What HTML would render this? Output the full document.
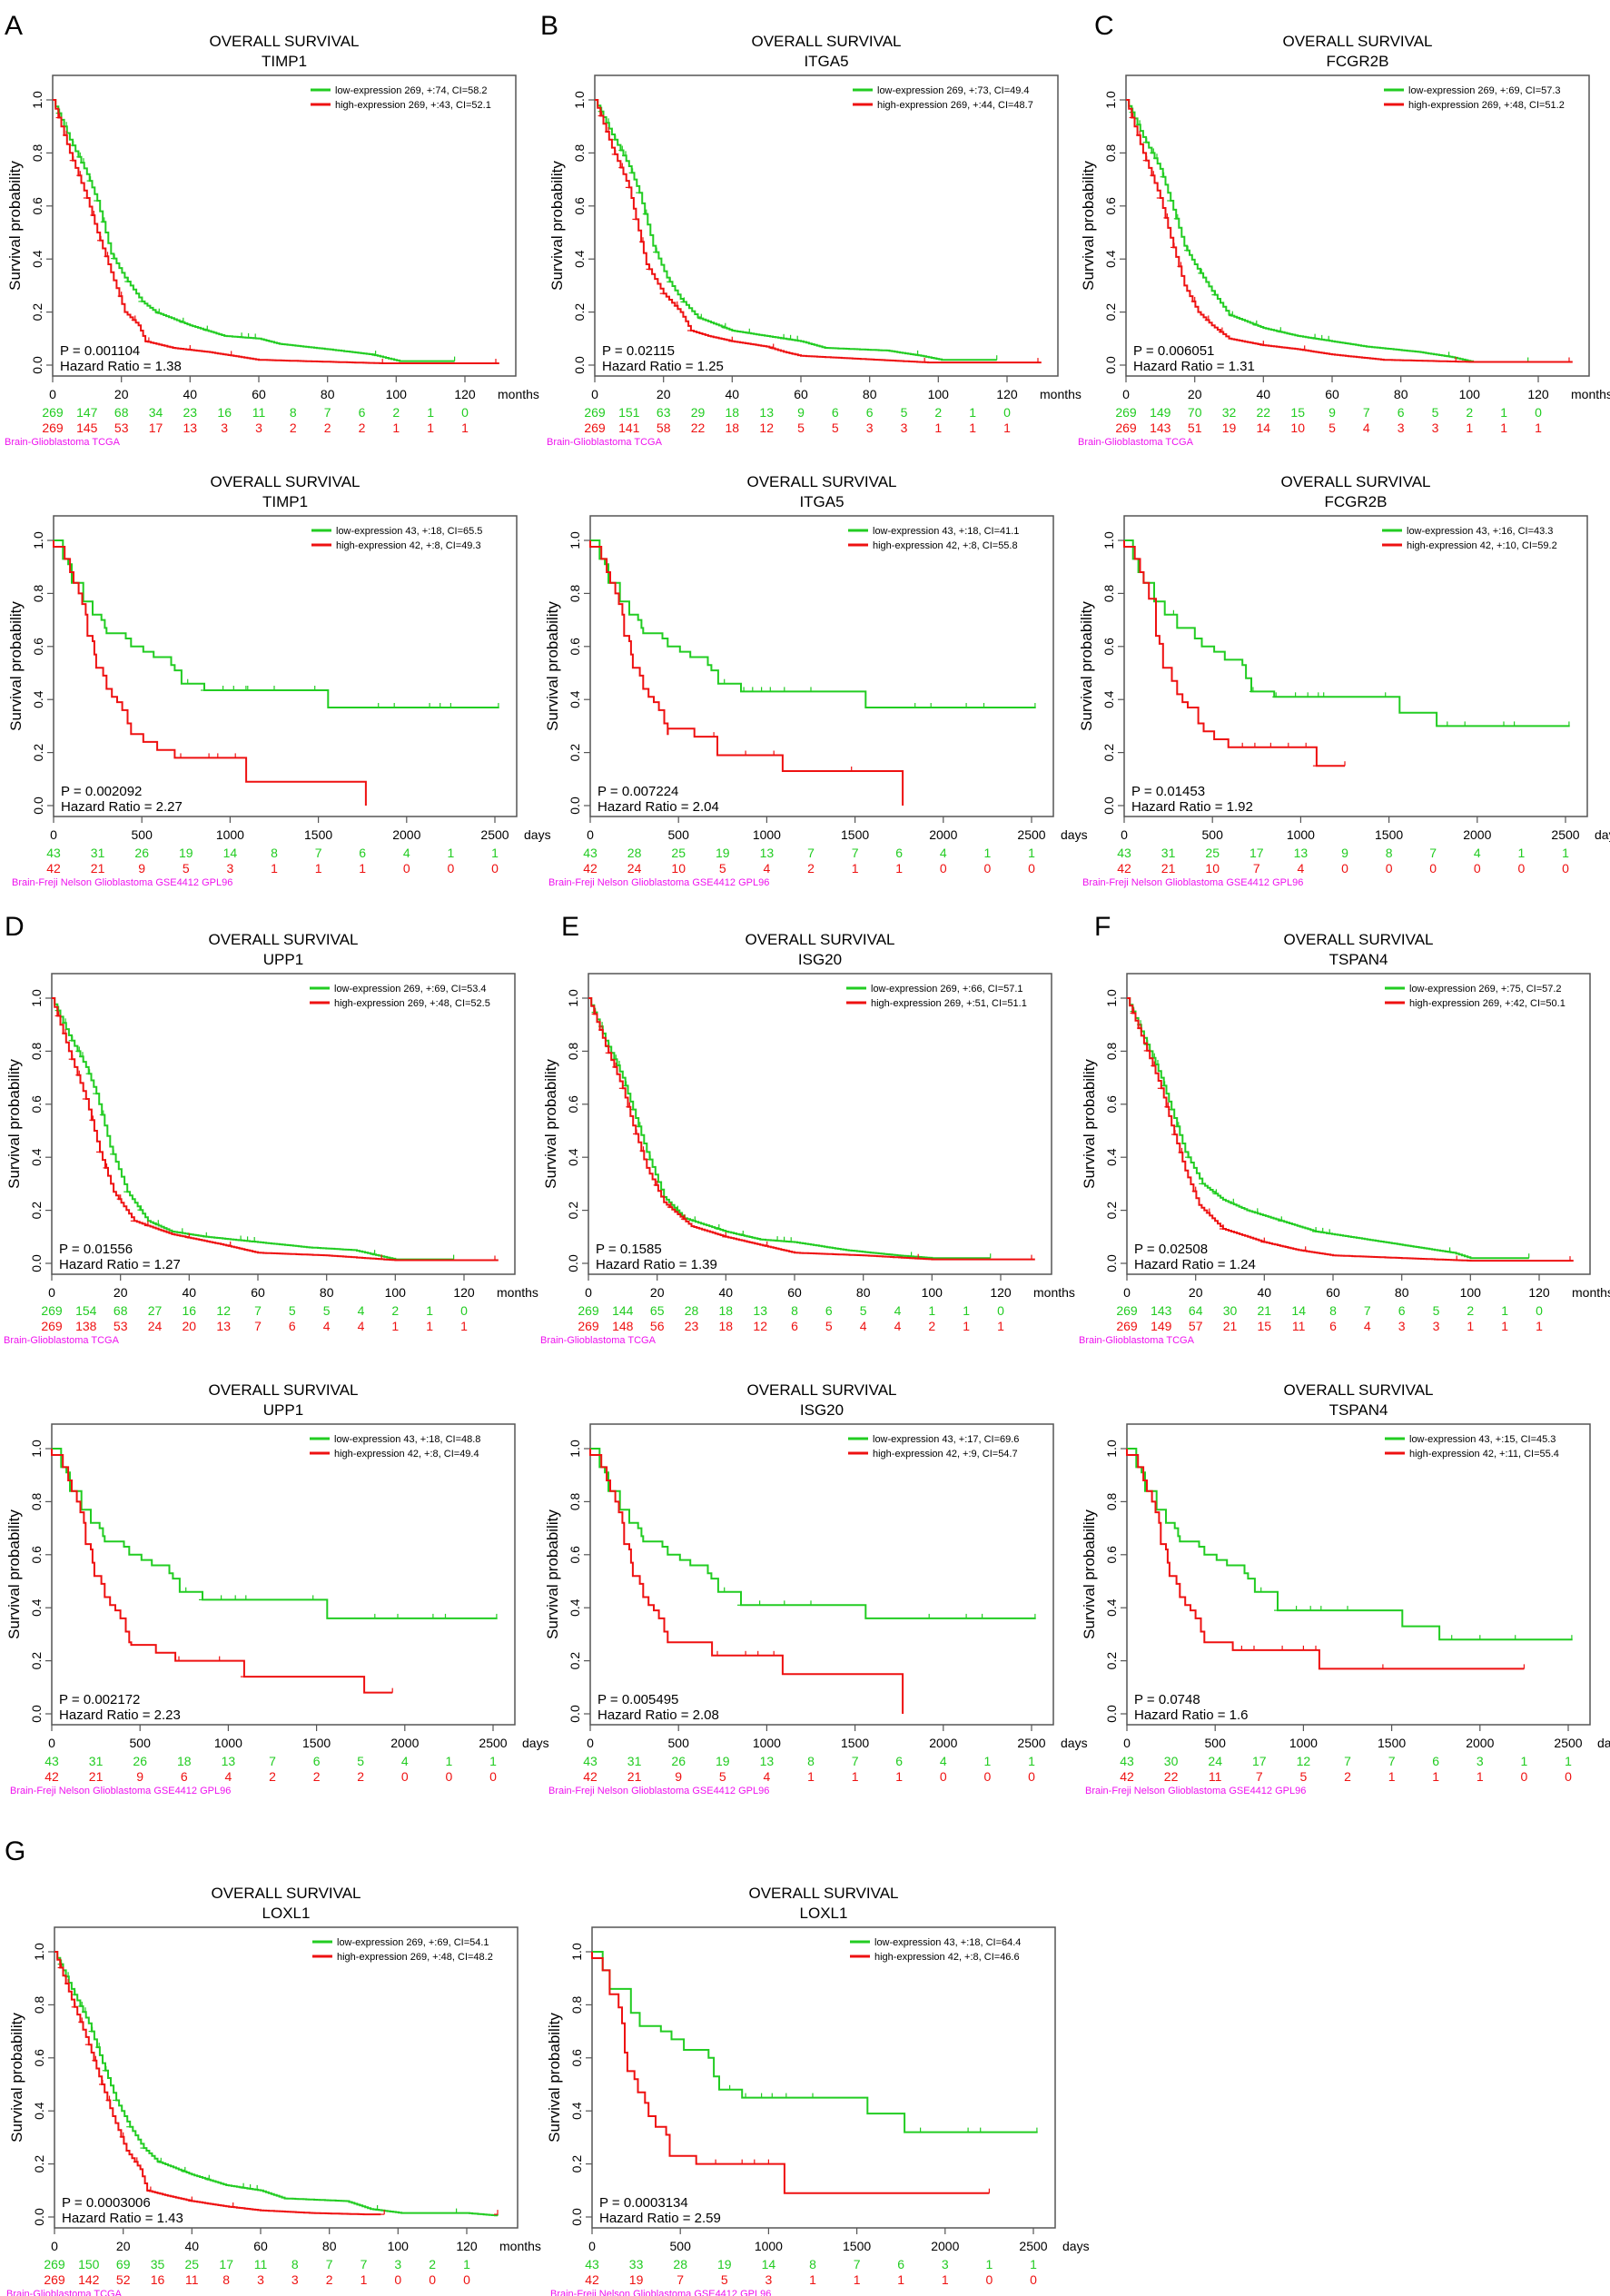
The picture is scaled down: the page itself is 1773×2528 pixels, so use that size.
<!DOCTYPE html>
<html><head><meta charset="utf-8">
<style>
html,body{margin:0;padding:0;background:#fff;}
svg{display:block;font-family:"Liberation Sans",Arial,sans-serif;}
</style></head>
<body>
<svg id="s" width="1773" height="2528" viewBox="0 0 1773 2528" xmlns="http://www.w3.org/2000/svg">
<rect width="1773" height="2528" fill="#fff"/>
</svg>
<script>
var S=document.getElementById('s'),NS='http://www.w3.org/2000/svg';
var out='';
function T(x,y,t,o){o=o||{};out+='<text x="'+x+'" y="'+y+'" font-size="'+(o.fs||14)+'" fill="'+(o.c||'#000')+'" text-anchor="'+(o.a||'middle')+'"'+(o.r?' transform="rotate(-90 '+x+' '+y+')"':'')+'>'+t+'</text>';}
function L(x1,y1,x2,y2,c,w){out+='<line x1="'+x1+'" y1="'+y1+'" x2="'+x2+'" y2="'+y2+'" stroke="'+c+'" stroke-width="'+(w||1)+'"/>';}
var G='#22cc22',R='#ee1111',M='#ee11ee';
function stepsFromKeys(keys,dt){
  var pts=[];var t=keys[0][0],s=keys[0][1];pts.push([t,s]);
  for(var i=1;i<keys.length;i++){var a=keys[i-1],b=keys[i];var n=Math.max(1,Math.round((b[0]-a[0])/dt));
    for(var k=1;k<=n;k++){var tt=a[0]+(b[0]-a[0])*k/n,ss=a[1]+(b[1]-a[1])*k/n;pts.push([tt,ss]);}}
  return pts;}
function drawCurve(p,pts,col,cens){
  var d='';
  for(var i=0;i<pts.length;i++){var x=p.X(pts[i][0]),y=p.Y(pts[i][1]);
    if(i==0)d+='M'+x+' '+y;else{d+=' H'+x+' V'+y;}}
  out+='<path d="'+d+'" fill="none" stroke="'+col+'" stroke-width="2"/>';
  (cens||[]).forEach(function(c){var v=valAt(pts,c);var x=p.X(c),y=p.Y(v);L(x,y-5,x,y+5,col,1.2);L(x-4,y,x+4,y,col,1.2);});
}
function valAt(pts,t){var v=pts[0][1];for(var i=0;i<pts.length;i++){if(pts[i][0]<=t)v=pts[i][1];}return v;}
function panel(o){
  var x0=o.x,y0=o.y,w=510,h=331,W=o.tcga?454/120:486/2500;
  var p={X:function(t){return (x0+t*W).toFixed(1);},Y:function(s){return (y0+27+(1-s)*292).toFixed(1);}};
  var cx=x0+w/2;
  T(cx,y0-32,'OVERALL SURVIVAL',{fs:17});T(cx,y0-10,o.gene,{fs:17});
  out+='<rect x="'+x0+'" y="'+y0+'" width="'+w+'" height="'+h+'" fill="none" stroke="#555" stroke-width="1.5"/>';
  for(var i=0;i<=5;i++){var yy=y0+27+(1-i/5)*292;L(x0-7,yy,x0,yy,'#555',1.2);T(x0-12,yy,(i/5).toFixed(1),{fs:14,r:1});}
  T(x0-36,y0+h/2,'Survival probability',{fs:17,r:1});
  var ticks=o.tcga?[0,20,40,60,80,100,120]:[0,500,1000,1500,2000,2500];
  ticks.forEach(function(t){var xx=+p.X(t);L(xx,y0+h,xx,y0+h+7,'#555',1.2);T(xx,y0+h+25,t,{fs:14});});
  T(o.tcga?x0+w-20:x0+w+8,y0+h+25,o.tcga?'months':'days',{fs:14,a:'start'});
  var step=o.tcga?10:250;
  o.gc.forEach(function(n,i){T(+p.X(i*step),y0+h+45,n,{fs:14,c:G});});
  o.rc.forEach(function(n,i){T(+p.X(i*step),y0+h+62,n,{fs:14,c:R});});
  T(o.tcga?x0-53:x0-46,y0+h+76,o.tcga?'Brain-Glioblastoma TCGA':'Brain-Freji Nelson Glioblastoma GSE4412 GPL96',{fs:11,c:M,a:'start'});
  L(x0+w-226,y0+16,x0+w-204,y0+16,G,3);L(x0+w-226,y0+32,x0+w-204,y0+32,R,3);
  T(x0+w-199,y0+20,o.lg,{fs:11,a:'start'});T(x0+w-199,y0+36,o.lr,{fs:11,a:'start'});
  T(x0+8,y0+308,'P = '+o.p,{fs:15,a:'start'});T(x0+8,y0+325,'Hazard Ratio = '+o.hr,{fs:15,a:'start'});
  var gp,rp;
  if(o.tcga){gp=stepsFromKeys(o.g,0.8);rp=stepsFromKeys(o.r,0.8);}
  else{gp=o.g;rp=o.r;}
  var gcens=o.tcga?[2,4,6,8,9,11,13,15,18,22,26,31,38,45,55,57,59,94,117]:o.gcen;
  var rcens=o.tcga?[2,4,6,8,10,12,14,16,20,24,28,40,52,96,129]:o.rcen;
  drawCurve(p,gp,G,gcens);drawCurve(p,rp,R,rcens);
}
function gse(steps,end){var a=[[0,1]];steps.forEach(function(s){a.push(s);});a.push([end,a[a.length-1][1]]);return a;}
var gEarly=[[53,.93],[83,.91],[103,.84],[168,.77],[221,.72],[271,.70],[290,.67],[300,.65],[409,.63],[439,.60],[508,.58],[567,.56],[666,.53],[686,.51],[725,.46]];
var rEarly=[[0,.976],[63,.93],[93,.88],[113,.84],[142,.80],[162,.76],[182,.72],[192,.64],[221,.62],[231,.57],[241,.52],[281,.49],[300,.44],[330,.41],[360,.39],[389,.36],[419,.31],[439,.27]];
function gsec(plateaus,end){return gse(gEarly.concat(plateaus),end);}
function rsec(tail,end){return gse(rEarly.concat(tail),end);}
var TG1=[[0,1],[5,.85],[10,.72],[13,.62],[17,.42],[21,.33],[26,.24],[30,.2],[40,.15],[50,.11],[60,.1],[66,.08],[80,.06],[93,.04],[101,.015],[117,.015]];
var TR1=[[0,1],[5,.8],[10,.63],[13,.5],[17,.35],[21,.2],[25,.15],[27,.09],[35,.065],[45,.05],[55,.03],[60,.02],[73,.015],[96,.007],[130,.007]];
var P=[
{x:58,y:83,tcga:1,gene:'TIMP1',lg:'low-expression 269, +:74, CI=58.2',lr:'high-expression 269, +:43, CI=52.1',p:'0.001104',hr:'1.38',
 gc:[269,147,68,34,23,16,11,8,7,6,2,1,0],rc:[269,145,53,17,13,3,3,2,2,2,1,1,1],g:TG1,r:TR1},
{x:655,y:83,tcga:1,gene:'ITGA5',lg:'low-expression 269, +:73, CI=49.4',lr:'high-expression 269, +:44, CI=48.7',p:'0.02115',hr:'1.25',
 gc:[269,151,63,29,18,13,9,6,6,5,2,1,0],rc:[269,141,58,22,18,12,5,5,3,3,1,1,1],
 g:[[0,1],[5,.87],[10,.75],[13,.65],[17,.45],[21,.33],[25,.25],[30,.18],[40,.13],[55,.1],[60,.09],[67,.065],[85,.055],[95,.035],[101,.02],[117,.02]],
 r:[[0,1],[5,.82],[10,.67],[12,.55],[15,.38],[20,.27],[25,.2],[28,.13],[33,.11],[40,.09],[50,.07],[55,.05],[60,.035],[75,.025],[97,.01],[130,.01]]},
{x:1240,y:83,tcga:1,gene:'FCGR2B',lg:'low-expression 269, +:69, CI=57.3',lr:'high-expression 269, +:48, CI=51.2',p:'0.006051',hr:'1.31',
 gc:[269,149,70,32,22,15,9,7,6,5,2,1,0],rc:[269,143,51,19,14,10,5,4,3,3,1,1,1],
 g:[[0,1],[5,.86],[10,.74],[13,.62],[17,.45],[20,.38],[25,.28],[30,.19],[40,.14],[50,.11],[60,.09],[70,.07],[85,.05],[95,.03],[101,.012],[117,.012]],
 r:[[0,1],[5,.8],[10,.63],[13,.48],[17,.3],[21,.2],[25,.15],[30,.1],[40,.075],[50,.06],[60,.04],[75,.02],[100,.012],[130,.012]]},
{x:59,y:568,gene:'TIMP1',lg:'low-expression 43, +:18, CI=65.5',lr:'high-expression 42, +:8, CI=49.3',p:'0.002092',hr:'2.27',
 gc:[43,31,26,19,14,8,7,6,4,1,1],rc:[42,21,9,5,3,1,1,1,0,0,0],
 g:gsec([[854,.435],[1555,.37]],2524),r:rsec([[508,.24],[587,.21],[686,.18],[1091,.09],[1769,0]],1769),
 gcen:[760,854,960,1020,1090,1100,1250,1480,1840,1930,2130,2190,2250,2520],rcen:[720,880,930,1030]},
{x:650,y:568,gene:'ITGA5',lg:'low-expression 43, +:18, CI=41.1',lr:'high-expression 42, +:8, CI=55.8',p:'0.007224',hr:'2.04',
 gc:[43,28,25,19,13,7,7,6,4,1,1],rc:[42,24,10,5,4,2,1,1,0,0,0],
 g:gsec([[854,.43],[1560,.37]],2524),r:rsec([[440,.29],[590,.26],[720,.19],[1090,.13],[1770,0]],1770),
 gcen:[760,870,920,970,1020,1100,1250,1840,1930,2130,2230,2520],rcen:[700,880,1040,1480]},
{x:1238,y:568,gene:'FCGR2B',lg:'low-expression 43, +:16, CI=43.3',lr:'high-expression 42, +:10, CI=59.2',p:'0.01453',hr:'1.92',
 gc:[43,31,25,17,13,9,8,7,4,1,1],rc:[42,21,10,7,4,0,0,0,0,0,0],
 g:gse([[50,.93],[80,.88],[110,.84],[170,.77],[230,.72],[300,.67],[400,.63],[440,.60],[510,.58],[570,.55],[670,.53],[690,.48],[720,.43],[850,.41],[1560,.35],[1770,.30]],2524),
 r:gse([[0,.976],[60,.93],[90,.88],[110,.84],[140,.78],[180,.64],[200,.61],[220,.52],[270,.47],[300,.42],[330,.39],[360,.37],[420,.31],[450,.28],[510,.25],[590,.22],[1090,.15]],1250),
 gcen:[280,730,860,970,1040,1100,1130,1480,1830,1930,2150,2210,2520],rcen:[670,740,830,930,1030,1090,1250]},
{x:57,y:1072,tcga:1,gene:'UPP1',lg:'low-expression 269, +:69, CI=53.4',lr:'high-expression 269, +:48, CI=52.5',p:'0.01556',hr:'1.27',
 gc:[269,154,68,27,16,12,7,5,5,4,2,1,0],rc:[269,138,53,24,20,13,7,6,4,4,1,1,1],
 g:[[0,1],[5,.86],[10,.74],[13,.64],[17,.44],[22,.27],[28,.16],[35,.12],[45,.1],[60,.08],[75,.06],[88,.05],[100,.015],[117,.015]],
 r:[[0,1],[5,.8],[10,.62],[14,.42],[18,.27],[24,.16],[35,.11],[50,.07],[60,.04],[80,.03],[100,.012],[130,.012]]},
{x:648,y:1072,tcga:1,gene:'ISG20',lg:'low-expression 269, +:66, CI=57.1',lr:'high-expression 269, +:51, CI=51.1',p:'0.1585',hr:'1.39',
 gc:[269,144,65,28,18,13,8,6,5,4,1,1,0],rc:[269,148,56,23,18,12,6,5,4,4,2,1,1],
 g:[[0,1],[5,.84],[10,.7],[13,.58],[17,.42],[22,.25],[28,.17],[40,.12],[50,.09],[60,.08],[75,.05],[90,.03],[100,.02],[117,.02]],
 r:[[0,1],[5,.82],[10,.66],[13,.52],[17,.36],[22,.23],[30,.14],[40,.1],[50,.07],[60,.04],[80,.03],[100,.015],[130,.015]]},
{x:1241,y:1072,tcga:1,gene:'TSPAN4',lg:'low-expression 269, +:75, CI=57.2',lr:'high-expression 269, +:42, CI=50.1',p:'0.02508',hr:'1.24',
 gc:[269,143,64,30,21,14,8,7,6,5,2,1,0],rc:[269,149,57,21,15,11,6,4,3,3,1,1,1],
 g:[[0,1],[5,.85],[10,.7],[13,.58],[17,.42],[22,.3],[28,.24],[35,.2],[45,.16],[55,.12],[70,.09],[85,.06],[95,.04],[100,.02],[117,.02]],
 r:[[0,1],[5,.83],[10,.66],[13,.52],[17,.35],[21,.22],[28,.13],[40,.08],[50,.05],[60,.03],[80,.02],[100,.01],[130,.01]]},
{x:57,y:1568,gene:'UPP1',lg:'low-expression 43, +:18, CI=48.8',lr:'high-expression 42, +:8, CI=49.4',p:'0.002172',hr:'2.23',
 gc:[43,31,26,18,13,7,6,5,4,1,1],rc:[42,21,9,6,4,2,2,2,0,0,0],
 g:gsec([[854,.43],[1560,.36]],2524),r:rsec([[450,.26],[590,.23],[700,.20],[1090,.14],[1770,.08]],1930),
 gcen:[760,854,960,1040,1100,1480,1830,1960,2160,2230,2520],rcen:[720,950,1090,1930]},
{x:650,y:1568,gene:'ISG20',lg:'low-expression 43, +:17, CI=69.6',lr:'high-expression 42, +:9, CI=54.7',p:'0.005495',hr:'2.08',
 gc:[43,31,26,19,13,8,7,6,4,1,1],rc:[42,21,9,5,4,1,1,1,0,0,0],
 g:gsec([[854,.41],[1560,.36]],2524),r:rsec([[500,.27],[690,.22],[1090,.15],[1770,0]],1770),
 gcen:[760,854,960,1100,1250,1920,2130,2220,2520],rcen:[720,880,950,1040]},
{x:1241,y:1568,gene:'TSPAN4',lg:'low-expression 43, +:15, CI=45.3',lr:'high-expression 42, +:11, CI=55.4',p:'0.0748',hr:'1.6',
 gc:[43,30,24,17,12,7,7,6,3,1,1],rc:[42,22,11,7,5,2,1,1,1,0,0],
 g:gsec([[854,.39],[1560,.33],[1770,.28]],2524),r:rsec([[500,.27],[600,.24],[1090,.17]],2250),
 gcen:[760,854,960,1040,1100,1250,1840,2000,2200,2520],rcen:[650,720,880,1000,1070,1450,2250]},
{x:60,y:2122,tcga:1,gene:'LOXL1',lg:'low-expression 269, +:69, CI=54.1',lr:'high-expression 269, +:48, CI=48.2',p:'0.0003006',hr:'1.43',
 gc:[269,150,69,35,25,17,11,8,7,7,3,2,1],rc:[269,142,52,16,11,8,3,3,2,1,0,0,0],
 g:[[0,1],[5,.86],[10,.73],[14,.58],[18,.44],[22,.34],[26,.26],[30,.21],[40,.16],[50,.12],[60,.1],[67,.07],[85,.06],[92,.03],[101,.015],[120,.015],[129,.005]],
 r:[[0,1],[5,.82],[10,.65],[13,.53],[17,.38],[21,.25],[25,.18],[27,.1],[33,.08],[40,.06],[50,.04],[60,.025],[75,.015],[90,.01],[95,.01]]},
{x:652,y:2122,gene:'LOXL1',lg:'low-expression 43, +:18, CI=64.4',lr:'high-expression 42, +:8, CI=46.6',p:'0.0003134',hr:'2.59',
 gc:[43,33,28,19,14,8,7,6,3,1,1],rc:[42,19,7,5,3,1,1,1,1,0,0],
 g:gse([[60,.93],[100,.86],[220,.77],[270,.72],[390,.70],[450,.67],[520,.63],[660,.60],[690,.53],[720,.48],[850,.45],[1560,.39],[1770,.32]],2524),
 r:gse([[0,.976],[60,.93],[100,.84],[150,.79],[170,.73],[185,.62],[200,.55],[240,.52],[260,.47],[300,.43],[320,.38],[360,.34],[420,.31],[440,.23],[590,.2],[1090,.09]],2250),
 gcen:[780,870,960,1020,1100,1250,1860,2130,2200,2520],rcen:[700,850,920,1000,2250]}
];
P.forEach(panel);
[['A',5,38],['B',595,38],['C',1205,38],['D',5,1030],['E',618,1030],['F',1205,1030],['G',5,2048]].forEach(function(l){T(l[1],l[2],l[0],{fs:30,a:'start'});});
S.insertAdjacentHTML('beforeend',out);
</script>
</body></html>
